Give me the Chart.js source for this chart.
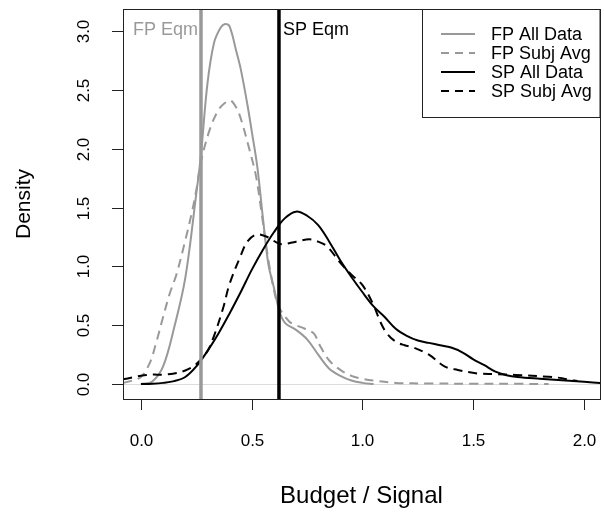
<!DOCTYPE html>
<html>
<head>
<meta charset="utf-8">
<script src="https://cdn.jsdelivr.net/npm/chart.js@4.4.1/dist/chart.umd.min.js"></script>
<style>
  html, body { margin: 0; padding: 0; background: #ffffff; }
  #wrap { width: 604px; height: 519px; }
</style>
</head>
<body>
<div id="wrap"><canvas id="densityChart" width="604" height="519"></canvas></div>
<script>
// curves (x = budget / signal, y = density)
const fpAllX = [0.00, 0.05, 0.10, 0.15, 0.20, 0.25, 0.27, 0.30, 0.33, 0.36, 0.38, 0.40, 0.43, 0.45, 0.48, 0.50, 0.525, 0.55, 0.575, 0.60, 0.625, 0.65, 0.70, 0.75, 0.80, 0.85, 0.90, 0.95, 1.00, 1.05];
const fpAllY = [0.00, 0.02, 0.15, 0.48, 0.90, 1.62, 1.93, 2.55, 2.90, 3.03, 3.06, 3.04, 2.83, 2.68, 2.38, 2.15, 1.85, 1.42, 1.02, 0.82, 0.62, 0.52, 0.46, 0.38, 0.25, 0.13, 0.07, 0.03, 0.01, 0.00];

const fpSubjX = [-0.08, -0.04, 0.00, 0.04, 0.07, 0.10, 0.13, 0.16, 0.20, 0.23, 0.25, 0.27, 0.31, 0.35, 0.38, 0.405, 0.43, 0.45, 0.49, 0.52, 0.55, 0.58, 0.61, 0.63, 0.67, 0.70, 0.74, 0.78, 0.81, 0.85, 0.90, 0.95, 1.00, 1.05, 1.15, 1.30, 1.50, 1.70, 1.84];
const fpSubjY = [0.01, 0.03, 0.06, 0.18, 0.36, 0.57, 0.77, 0.93, 1.22, 1.46, 1.65, 1.88, 2.16, 2.33, 2.39, 2.41, 2.35, 2.26, 1.99, 1.76, 1.38, 1.00, 0.72, 0.63, 0.53, 0.50, 0.47, 0.43, 0.32, 0.20, 0.12, 0.07, 0.045, 0.03, 0.01, 0.005, 0.003, 0.002, 0.00];

const spAllX = [0.00, 0.05, 0.10, 0.15, 0.20, 0.25, 0.30, 0.35, 0.40, 0.45, 0.50, 0.55, 0.60, 0.65, 0.70, 0.75, 0.80, 0.85, 0.90, 0.95, 1.00, 1.05, 1.10, 1.15, 1.20, 1.25, 1.30, 1.35, 1.40, 1.45, 1.50, 1.55, 1.60, 1.65, 1.70, 1.80, 1.90, 2.00, 2.08];
const spAllY = [0.00, 0.003, 0.01, 0.025, 0.06, 0.15, 0.28, 0.43, 0.60, 0.78, 0.97, 1.14, 1.29, 1.41, 1.465, 1.43, 1.35, 1.21, 1.05, 0.91, 0.78, 0.66, 0.57, 0.47, 0.41, 0.37, 0.35, 0.33, 0.31, 0.27, 0.21, 0.16, 0.105, 0.075, 0.06, 0.045, 0.032, 0.02, 0.008];

const spSubjX = [-0.08, -0.04, 0.00, 0.05, 0.10, 0.15, 0.20, 0.25, 0.30, 0.33, 0.37, 0.40, 0.45, 0.48, 0.52, 0.57, 0.63, 0.70, 0.76, 0.80, 0.84, 0.90, 0.95, 1.00, 1.05, 1.08, 1.11, 1.15, 1.19, 1.23, 1.30, 1.37, 1.43, 1.52, 1.60, 1.69, 1.84, 1.90, 1.94, 1.97];
const spSubjY = [0.04, 0.055, 0.07, 0.08, 0.08, 0.09, 0.115, 0.17, 0.28, 0.41, 0.64, 0.85, 1.09, 1.21, 1.27, 1.25, 1.19, 1.21, 1.23, 1.21, 1.17, 1.03, 0.93, 0.84, 0.67, 0.53, 0.43, 0.36, 0.33, 0.31, 0.25, 0.15, 0.12, 0.09, 0.085, 0.077, 0.062, 0.05, 0.034, 0.025];

const fpEqm = 0.271;
const spEqm = 0.623;

const xTicks = [0.0, 0.5, 1.0, 1.5, 2.0];
const yTicks = [0.0, 0.5, 1.0, 1.5, 2.0, 2.5, 3.0];
const legendLabels = ["FP All Data", "FP Subj Avg", "SP All Data", "SP Subj Avg"];

const GRAY = "#999999";
const FONT = "'Liberation Sans', Arial, sans-serif";
const DASH = [9, 6];

function pts(xs, ys) {
    return xs.map((x, i) => ({ x: x, y: ys[i] }));
}

function vline(x) {
    return [{ x: x, y: -1 }, { x: x, y: 4 }];
}

const rBase = {
    id: "rBase",
    beforeDatasetsDraw(chart) {
        const ctx = chart.ctx;
        const a = chart.chartArea;
        const y0 = chart.scales.y.getPixelForValue(0);
        ctx.save();
        ctx.strokeStyle = "#dcdcdc";
        ctx.lineWidth = 1;
        ctx.beginPath();
        ctx.moveTo(a.left, Math.round(y0) + 0.5);
        ctx.lineTo(a.right, Math.round(y0) + 0.5);
        ctx.stroke();
        ctx.restore();
    },
    afterDraw(chart) {
        const ctx = chart.ctx;
        const a = chart.chartArea;
        const xs = chart.scales.x;
        const ys = chart.scales.y;
        ctx.save();

        // box
        ctx.strokeStyle = "#222";
        ctx.lineWidth = 1;
        ctx.strokeRect(Math.round(a.left) + 0.5, Math.round(a.top) + 0.5,
            Math.round(a.right - a.left), Math.round(a.bottom - a.top));

        // x axis
        ctx.fillStyle = "#000";
        ctx.font = "17px " + FONT;
        ctx.textAlign = "center";
        ctx.textBaseline = "middle";
        xTicks.forEach(t => {
            const px = Math.round(xs.getPixelForValue(t)) + 0.5;
            ctx.beginPath();
            ctx.moveTo(px, a.bottom);
            ctx.lineTo(px, a.bottom + 11);
            ctx.stroke();
            ctx.fillText(t.toFixed(1), px, 441);
        });

        // y axis, labels turned like base R
        yTicks.forEach(t => {
            const py = Math.round(ys.getPixelForValue(t)) + 0.5;
            ctx.beginPath();
            ctx.moveTo(a.left, py);
            ctx.lineTo(a.left - 11, py);
            ctx.stroke();
            ctx.save();
            ctx.translate(84, py);
            ctx.rotate(-Math.PI / 2);
            ctx.fillText(t.toFixed(1), 0, 0);
            ctx.restore();
        });

        // axis titles
        ctx.font = "24px " + FONT;
        ctx.fillText("Budget / Signal", (a.left + a.right) / 2, 496);
        ctx.font = "21px " + FONT;
        ctx.save();
        ctx.translate(24, (a.top + a.bottom) / 2);
        ctx.rotate(-Math.PI / 2);
        ctx.fillText("Density", 0, 0);
        ctx.restore();

        // eqm labels
        ctx.font = "18px " + FONT;
        ctx.textAlign = "right";
        ctx.fillStyle = GRAY;
        ctx.fillText("FP Eqm", xs.getPixelForValue(fpEqm) - 3, 30);
        ctx.textAlign = "left";
        ctx.fillStyle = "#000";
        ctx.fillText("SP Eqm", xs.getPixelForValue(spEqm) + 4, 30);

        // legend
        const lx = 422.5, ly = a.top + 0.5, lw = a.right - 422.5, lh = 108;
        ctx.fillStyle = "#fff";
        ctx.fillRect(lx, ly, lw, lh);
        ctx.strokeStyle = "#222";
        ctx.strokeRect(lx, ly, lw, lh);
        const rows = [34, 53, 72, 91];
        const cols = [GRAY, GRAY, "#000", "#000"];
        legendLabels.forEach((lab, i) => {
            ctx.strokeStyle = cols[i];
            ctx.lineWidth = 2;
            ctx.setLineDash(i % 2 === 1 ? [8, 6] : []);
            ctx.beginPath();
            ctx.moveTo(441, rows[i]);
            ctx.lineTo(475, rows[i]);
            ctx.stroke();
            ctx.setLineDash([]);
            ctx.fillStyle = "#000";
            ctx.font = "18px " + FONT;
            ctx.textAlign = "left";
            ctx.fillText(lab, 491, rows[i] + 1);
        });
        ctx.restore();
    }
};

const curve = {
    fill: false,
    pointRadius: 0,
    borderWidth: 2,
    tension: 0.35
};

new Chart(document.getElementById("densityChart"), {
    type: "line",
    data: {
        datasets: [
            { ...curve, label: "FP All Data", data: pts(fpAllX, fpAllY), borderColor: GRAY, order: 4 },
            { ...curve, label: "FP Subj Avg", data: pts(fpSubjX, fpSubjY), borderColor: GRAY, borderDash: DASH, order: 3 },
            { ...curve, label: "SP All Data", data: pts(spAllX, spAllY), borderColor: "#000", order: 2 },
            { ...curve, label: "SP Subj Avg", data: pts(spSubjX, spSubjY), borderColor: "#000", borderDash: DASH, order: 1 },
            { label: "FP Eqm", data: vline(fpEqm), borderColor: GRAY, borderWidth: 3.5, pointRadius: 0, order: 0 },
            { label: "SP Eqm", data: vline(spEqm), borderColor: "#000", borderWidth: 3.5, pointRadius: 0, order: 0 }
        ]
    },
    options: {
        responsive: false,
        animation: false,
        layout: { padding: { left: 123, right: 4, top: 9, bottom: 120 } },
        plugins: {
            legend: { display: false },
            tooltip: { enabled: false }
        },
        scales: {
            x: { type: "linear", min: -0.081, max: 2.072, display: false },
            y: { type: "linear", min: -0.127, max: 3.187, display: false }
        }
    },
    plugins: [rBase]
});
</script>
</body>
</html>
